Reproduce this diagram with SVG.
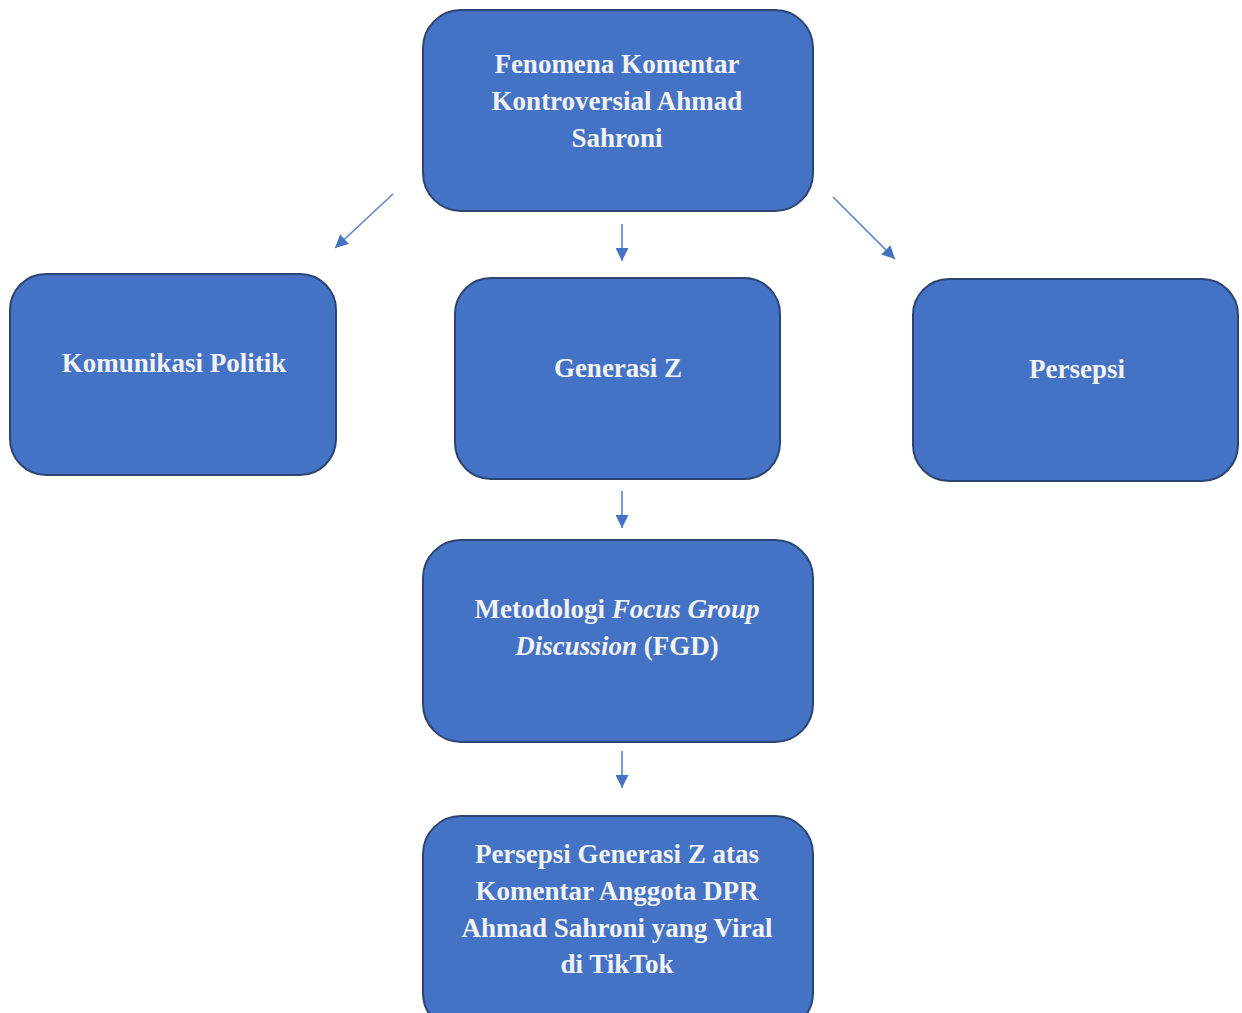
<svg xmlns="http://www.w3.org/2000/svg" width="1242" height="1013" viewBox="0 0 1242 1013">
<style>
.box{fill:#4472C4;stroke:#2B4472;stroke-width:2}
.t{font-family:"Liberation Serif","Times New Roman",serif;font-weight:bold;font-size:27px;fill:#F2F2F2;text-anchor:middle}
.c{stroke:#5B84C8;stroke-width:1.6;fill:none}
</style>
<defs>
<marker id="arr" viewBox="0 0 12 12" refX="12" refY="6" markerWidth="13" markerHeight="13" orient="auto" markerUnits="userSpaceOnUse">
<path d="M0,0 L12,6 L0,12 Z" fill="#4472C4"/>
</marker>
</defs>
<rect width="1242" height="1013" fill="#FFFFFF"/>
<g id="connectors">
<line class="c" x1="393" y1="194" x2="335" y2="248" marker-end="url(#arr)"/>
<line class="c" x1="622" y1="224" x2="622" y2="261" marker-end="url(#arr)"/>
<line class="c" x1="833" y1="197" x2="895" y2="259" marker-end="url(#arr)"/>
<line class="c" x1="622" y1="491" x2="622" y2="528" marker-end="url(#arr)"/>
<line class="c" x1="622" y1="751" x2="622" y2="788" marker-end="url(#arr)"/>
</g>
<g id="node-fenomena">
<rect class="box" x="423" y="10" width="390" height="201" rx="38"/>
<text class="t" x="617" y="73">Fenomena Komentar</text>
<text class="t" x="617" y="110">Kontroversial Ahmad</text>
<text class="t" x="617" y="147">Sahroni</text>
</g>
<g id="node-komunikasi">
<rect class="box" x="10" y="274" width="326" height="201" rx="36"/>
<text class="t" x="174" y="372">Komunikasi Politik</text>
</g>
<g id="node-generasi">
<rect class="box" x="455" y="278" width="325" height="201" rx="36"/>
<text class="t" x="618" y="377">Generasi Z</text>
</g>
<g id="node-persepsi">
<rect class="box" x="913" y="279" width="325" height="202" rx="36"/>
<text class="t" x="1077" y="378">Persepsi</text>
</g>
<g id="node-metodologi">
<rect class="box" x="423" y="540" width="390" height="202" rx="38"/>
<text class="t" x="617" y="618">Metodologi <tspan font-style="italic">Focus Group</tspan></text>
<text class="t" x="617" y="655"><tspan font-style="italic">Discussion</tspan> (FGD)</text>
</g>
<g id="node-hasil">
<rect class="box" x="423" y="816" width="390" height="215" rx="38"/>
<text class="t" x="617" y="863">Persepsi Generasi Z atas</text>
<text class="t" x="617" y="900">Komentar Anggota DPR</text>
<text class="t" x="617" y="937">Ahmad Sahroni yang Viral</text>
<text class="t" x="617" y="973">di TikTok</text>
</g>
</svg>
